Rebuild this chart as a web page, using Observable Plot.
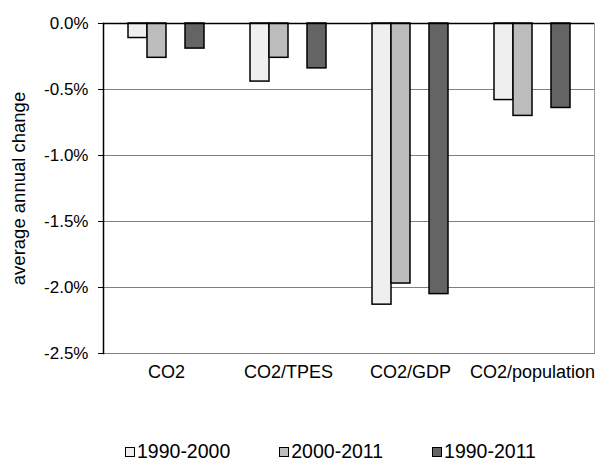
<!DOCTYPE html>
<html>
<head>
<meta charset="utf-8">
<script src="https://cdn.jsdelivr.net/npm/d3@7"></script>
<script src="https://cdn.jsdelivr.net/npm/@observablehq/plot@0.6"></script>
<style>
  body { margin: 0; background: #fff; font-family: "Liberation Sans", Arial, sans-serif; }
  #chart { width: 595px; height: 463px; position: relative; overflow: hidden; background: #fff; }
  #chart svg { position: absolute; left: 0; top: 0; }
  .legend { position: absolute; left: 0; top: 420px; display: flex; align-items: center; padding-left: 125px; padding-top: 22px; font-size: 19.5px; line-height: 19px; color: #000; }
  .legend .item { display: flex; align-items: center; margin-right: 49px; }
  .legend .sw { width: 8px; height: 8px; border: 1.5px solid #000; margin-right: 2px; }
</style>
</head>
<body>
<div id="chart"></div>
<script>
const categories = ["CO2", "CO2/TPES", "CO2/GDP", "CO2/population"];
const series = ["1990-2000", "2000-2011", "1990-2011"];
const v1990_2000 = [-0.11, -0.44, -2.13, -0.58];
const v2000_2011 = [-0.26, -0.26, -1.97, -0.70];
const v1990_2011 = [-0.19, -0.34, -2.05, -0.64];
const yTicks = [0, -0.5, -1, -1.5, -2, -2.5];
const gridTicks = [-0.5, -1, -1.5, -2, -2.5];
const colors = ["#efefef", "#bcbcbc", "#646464"];
const slots = ["1990-2000", "2000-2011", "gap", "1990-2011"];
const yTitle = "average annual change";

const seriesValues = [v1990_2000, v2000_2011, v1990_2011];
const data = [];
categories.forEach((c, i) => {
  series.forEach((s, j) => data.push({category: c, series: s, value: seriesValues[j][i]}));
});

const fmt = d => d.toFixed(1) + "%";

const common = {
  width: 595,
  height: 420,
  marginLeft: 103,
  marginRight: 1,
  marginTop: 23,
  marginBottom: 67,
  style: {fontFamily: "'Liberation Sans', Arial, sans-serif", fontSize: "17px", color: "#000", background: "transparent"}
};

// Background layer: frame, grid, axes
const backLayer = Plot.plot({
  ...common,
  x: {domain: categories, paddingInner: 0.381, paddingOuter: 0.19, label: null},
  y: {domain: [-2.5, 0], label: yTitle},
  marks: [
    Plot.frame({stroke: "#999"}),
    Plot.ruleY(gridTicks, {stroke: "#808080", strokeWidth: 1}),
    Plot.axisY({ticks: yTicks, tickFormat: fmt, tickSize: 5, tickPadding: 10, label: null, fontSize: 17, fill: "#000", stroke: "#000"}),
    Plot.axisY({ticks: [], label: yTitle, labelAnchor: "center", labelArrow: "none", labelOffset: 92, fontSize: 18.5, fill: "#000"}),
    Plot.axisX({anchor: "bottom", tickSize: 0, tickPadding: 12, label: null, fontSize: 18, fill: "#000"})
  ]
});

// Foreground layer: grouped bars
const barLayer = Plot.plot({
  ...common,
  fx: {domain: categories, paddingInner: 0.381, paddingOuter: 0.19, label: null, axis: null},
  x: {domain: slots, padding: 0, axis: null},
  y: {domain: [-2.5, 0], axis: null},
  color: {domain: series, range: colors},
  marks: [
    Plot.barY(data, {fx: "category", x: "series", y: "value", fill: "series", stroke: "#000", strokeWidth: 1.5})
  ]
});

// Top layer: zero line and left axis line
const lineLayer = Plot.plot({
  ...common,
  x: {domain: categories, paddingInner: 0.381, paddingOuter: 0.19, axis: null},
  y: {domain: [-2.5, 0], axis: null},
  marks: [
    Plot.ruleY([0], {stroke: "#000", strokeWidth: 1.5}),
    Plot.frame({anchor: "left", stroke: "#000", strokeWidth: 1.5})
  ]
});

const root = document.getElementById("chart");
root.appendChild(backLayer);
root.appendChild(barLayer);
root.appendChild(lineLayer);

const legend = document.createElement("div");
legend.className = "legend";
series.forEach((s, i) => {
  const item = document.createElement("div");
  item.className = "item";
  const sw = document.createElement("span");
  sw.className = "sw";
  sw.style.background = colors[i];
  const t = document.createElement("span");
  t.textContent = s;
  item.appendChild(sw);
  item.appendChild(t);
  legend.appendChild(item);
});
root.appendChild(legend);
</script>
</body>
</html>
